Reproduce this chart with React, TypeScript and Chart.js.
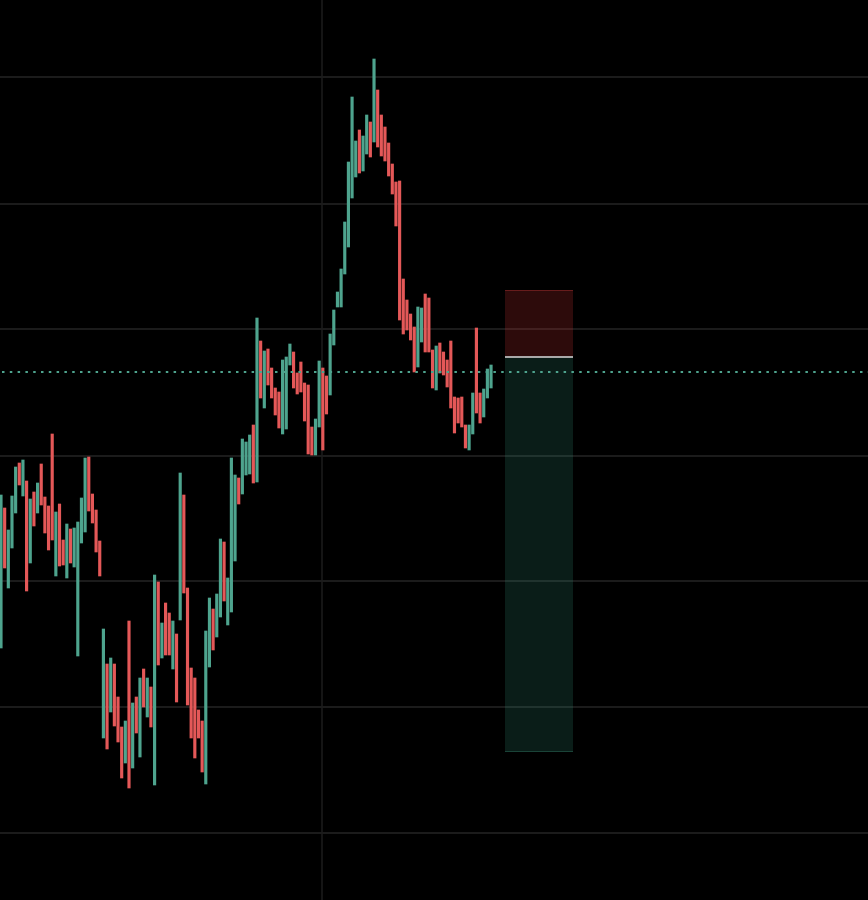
import React, { useEffect, useRef } from "react";
import { Chart, registerables } from "chart.js";

Chart.register(...registerables);

// Candle ranges (price units), oldest first
const highs = [
  505, 492, 470, 504, 533, 537, 540, 519, 501, 508,
  517, 536, 503, 494, 566, 488, 496, 460, 476, 471,
  472, 478, 502, 542, 543, 506, 490, 459, 371, 336,
  342, 336, 303, 273, 279, 379, 297, 303, 322, 331,
  322, 313, 425, 418, 377, 397, 387, 379, 366, 527,
  505, 412, 332, 322, 290, 279, 369, 402, 391, 406,
  461, 458, 422, 542, 525, 522, 561, 558, 565, 575,
  682, 659, 649, 651, 632, 612, 608, 640, 643, 656,
  648, 627, 638, 617, 615, 573, 581, 639, 632, 624,
  666, 690, 708, 731, 778, 838, 903, 859, 870, 864,
  885, 878, 941, 910, 885, 873, 857, 836, 818, 819,
  721, 700, 686, 673, 693, 692, 706, 702, 650, 654,
  657, 648, 640, 659, 603, 602, 603, 575, 575, 607,
  672, 607, 611, 631, 635,
];
const lows = [
  352, 432, 412, 452, 487, 515, 504, 409, 437, 474,
  487, 495, 467, 450, 460, 424, 434, 435, 422, 437,
  433, 344, 457, 468, 489, 477, 448, 424, 262, 251,
  288, 274, 258, 222, 237, 212, 232, 267, 243, 293,
  283, 273, 215, 335, 342, 345, 345, 331, 298, 380,
  407, 295, 262, 242, 262, 228, 216, 333, 350, 363,
  383, 399, 375, 388, 439, 496, 506, 525, 526, 517,
  518, 602, 592, 615, 602, 585, 572, 566, 571, 635,
  612, 606, 608, 579, 546, 545, 545, 573, 550, 586,
  605, 655, 693, 693, 726, 753, 802, 823, 827, 829,
  846, 843, 858, 853, 844, 839, 824, 806, 774, 680,
  666, 670, 660, 628, 633, 658, 648, 648, 612, 610,
  627, 625, 613, 592, 567, 577, 573, 552, 550, 566,
  587, 577, 583, 602, 612,
];
// u = up candle, d = down candle
const dirs = [
  "u", "d", "u", "u", "u", "d", "u", "d", "u", "d",
  "u", "d", "d", "d", "d", "u", "d", "d", "u", "d",
  "u", "u", "u", "u", "d", "d", "d", "d", "u", "d",
  "u", "d", "d", "d", "u", "d", "u", "d", "u", "d",
  "u", "d", "u", "d", "u", "d", "d", "u", "d", "u",
  "d", "d", "d", "d", "d", "d", "u", "u", "d", "u",
  "u", "d", "u", "u", "u", "d", "u", "u", "u", "d",
  "u", "d", "u", "d", "d", "d", "d", "u", "u", "u",
  "d", "d", "d", "d", "d", "d", "u", "u", "d", "d",
  "u", "u", "u", "u", "u", "u", "u", "u", "d", "u",
  "u", "d", "u", "d", "d", "d", "d", "d", "d", "d",
  "d", "d", "d", "d", "u", "u", "d", "d", "d", "u",
  "d", "d", "d", "d", "d", "d", "d", "d", "u", "u",
  "d", "d", "u", "u", "u",
];

// Horizontal grid price levels and vertical marker (bar index)
const gridPrices = [167, 293, 419, 544, 671, 796, 923];
const vMarkers = [87.8];

// Position tool and last price
const lastPrice = 628;
const entryPrice = 643;
const stopPrice = 710;
const targetPrice = 248;
const positionBars = [137.8, 156.4];

const X_MIN = -0.2734;
const X_MAX = 237.08;
const Y_MIN = 100;
const Y_MAX = 1000;

const UP = "rgb(78,164,142)";
const DOWN = "rgb(228,88,88)";

export default function App() {
  const ref = useRef<HTMLCanvasElement>(null);

  useEffect(() => {
    document.body.style.margin = "0";
    document.body.style.background = "#000";
    const canvas = ref.current;
    if (!canvas) return;

    const data = highs.map((h, i) => ({ x: i, y: [lows[i], h] }));
    const colors = dirs.map((d) => (d === "u" ? UP : DOWN));

    const overlay = {
      id: "overlay",
      beforeDraw(c: any) {
        const ctx = c.ctx;
        ctx.save();
        ctx.fillStyle = "#000";
        ctx.fillRect(0, 0, c.width, c.height);
        ctx.restore();
      },
      beforeDatasetsDraw(c: any) {
        const ctx = c.ctx;
        const xs = c.scales.x;
        const ys = c.scales.y;
        const { left, right, top, bottom } = c.chartArea;
        ctx.save();
        // horizontal grid
        ctx.strokeStyle = "#242424";
        ctx.lineWidth = 1.5;
        gridPrices.forEach((p) => {
          const y = Math.round(ys.getPixelForValue(p));
          ctx.beginPath();
          ctx.moveTo(left, y);
          ctx.lineTo(right, y);
          ctx.stroke();
        });
        // vertical marker
        ctx.strokeStyle = "#1c1c1c";
        ctx.lineWidth = 1.5;
        vMarkers.forEach((v) => {
          const x = Math.round(xs.getPixelForValue(v));
          ctx.beginPath();
          ctx.moveTo(x, top);
          ctx.lineTo(x, bottom);
          ctx.stroke();
        });
        // position box
        const x1 = Math.round(xs.getPixelForValue(positionBars[0]));
        const x2 = Math.round(xs.getPixelForValue(positionBars[1]));
        const yStop = Math.round(ys.getPixelForValue(stopPrice));
        const yEntry = Math.round(ys.getPixelForValue(entryPrice));
        const yTarget = Math.round(ys.getPixelForValue(targetPrice));
        ctx.fillStyle = "rgba(240,60,60,0.19)";
        ctx.fillRect(x1, yStop, x2 - x1, yEntry - yStop);
        ctx.fillStyle = "rgba(60,170,140,0.17)";
        ctx.fillRect(x1, yEntry, x2 - x1, yTarget - yEntry);
        ctx.lineWidth = 1;
        ctx.strokeStyle = "rgba(240,70,70,0.3)";
        ctx.beginPath();
        ctx.moveTo(x1, yStop + 0.5);
        ctx.lineTo(x2, yStop + 0.5);
        ctx.stroke();
        ctx.strokeStyle = "rgba(70,170,140,0.28)";
        ctx.beginPath();
        ctx.moveTo(x1, yTarget - 0.5);
        ctx.lineTo(x2, yTarget - 0.5);
        ctx.stroke();
        ctx.strokeStyle = "#a9a9a9";
        ctx.lineWidth = 2;
        ctx.beginPath();
        ctx.moveTo(x1, yEntry);
        ctx.lineTo(x2, yEntry);
        ctx.stroke();
        ctx.restore();
      },
      afterDatasetsDraw(c: any) {
        const ctx = c.ctx;
        const ys = c.scales.y;
        const { left, right } = c.chartArea;
        const y = Math.round(ys.getPixelForValue(lastPrice));
        ctx.save();
        ctx.strokeStyle = UP;
        ctx.lineWidth = 2;
        ctx.setLineDash([2.5, 5.3]);
        ctx.beginPath();
        ctx.moveTo(left + 2, y);
        ctx.lineTo(right, y);
        ctx.stroke();
        ctx.restore();
      },
    };

    const chart = new Chart(canvas, {
      type: "bar",
      data: {
        datasets: [
          {
            data: data as any,
            backgroundColor: colors,
            borderWidth: 0,
            barThickness: 2.5,
            grouped: false,
          } as any,
        ],
      },
      options: {
        responsive: false,
        maintainAspectRatio: false,
        animation: false,
        devicePixelRatio: 1,
        layout: { padding: 0 },
        plugins: {
          legend: { display: false },
          tooltip: { enabled: false },
          title: { display: false },
        },
        scales: {
          x: { type: "linear", min: X_MIN, max: X_MAX, offset: false, display: false },
          y: { type: "linear", min: Y_MIN, max: Y_MAX, display: false },
        },
      },
      plugins: [overlay],
    });

    return () => chart.destroy();
  }, []);

  return (
    <div style={{ width: 868, height: 900, background: "#000" }}>
      <canvas ref={ref} width={868} height={900} style={{ display: "block" }} />
    </div>
  );
}
